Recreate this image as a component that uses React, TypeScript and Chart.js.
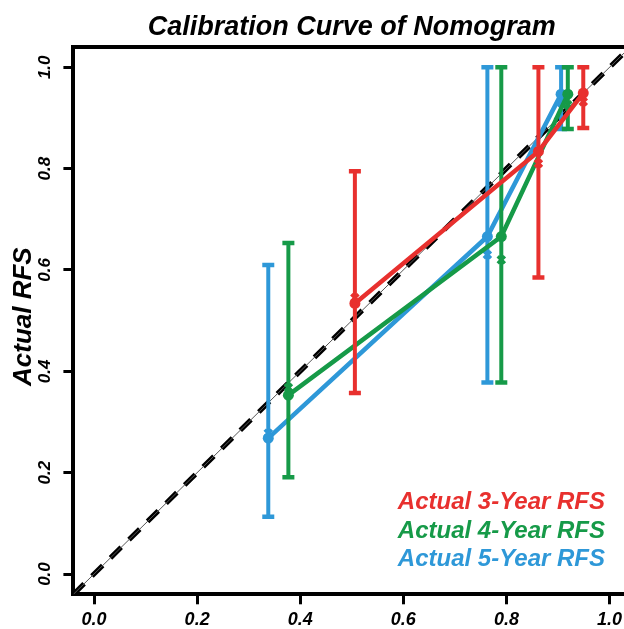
import React, { useEffect, useRef } from "react";
import { Chart, registerables } from "chart.js";

Chart.register(...registerables);

// ---- data ----
const xTicks = [0, 0.2, 0.4, 0.6, 0.8, 1.0];
const yTicks = [0, 0.2, 0.4, 0.6, 0.8, 1.0];
const diagonal = [-0.04, 1.04];

const seriesLabels = ["Actual 3-Year RFS", "Actual 4-Year RFS", "Actual 5-Year RFS"];
const seriesColors = ["#E8302E", "#169A48", "#2E98D8"];

const predicted3 = [0.506, 0.862, 0.949];
const observed3 = [0.534, 0.834, 0.949];
const corrected3 = [0.545, 0.81, 0.932];
const lower3 = [0.357, 0.585, 0.88];
const upper3 = [0.795, 1.0, 1.0];

const predicted4 = [0.377, 0.79, 0.919];
const observed4 = [0.353, 0.666, 0.947];
const corrected4 = [0.368, 0.62, 0.926];
const lower4 = [0.191, 0.378, 0.878];
const upper4 = [0.653, 1.0, 1.0];

const predicted5 = [0.338, 0.763, 0.906];
const observed5 = [0.268, 0.666, 0.947];
const corrected5 = [0.278, 0.63, 0.93];
const lower5 = [0.113, 0.378, 0.878];
const upper5 = [0.61, 1.0, 1.0];

const titleText = "Calibration Curve of Nomogram";
const yTitleText = "Actual RFS";

const FONT = '"Liberation Sans", Arial, Helvetica, sans-serif';

const series = [
  { pred: predicted3, obs: observed3, cor: corrected3, lo: lower3, hi: upper3 },
  { pred: predicted4, obs: observed4, cor: corrected4, lo: lower4, hi: upper4 },
  { pred: predicted5, obs: observed5, cor: corrected5, lo: lower5, hi: upper5 },
];

const textPlugin = {
  id: "customTexts",
  afterDraw(chart: any) {
    const { ctx, chartArea } = chart;
    const xs = chart.scales.x;
    const ys = chart.scales.y;
    ctx.save();
    // top frame line
    ctx.strokeStyle = "#000";
    ctx.lineWidth = 4;
    ctx.beginPath();
    ctx.moveTo(chartArea.left - 2, chartArea.top);
    ctx.lineTo(chartArea.right, chartArea.top);
    ctx.stroke();

    // title
    ctx.fillStyle = "#000";
    ctx.font = `italic bold 27px ${FONT}`;
    ctx.textAlign = "center";
    ctx.textBaseline = "alphabetic";
    ctx.fillText(titleText, xs.getPixelForValue(0.5), chartArea.top - 12);

    // y tick labels (rotated)
    ctx.font = `italic bold 17px ${FONT}`;
    yTicks.forEach((v) => {
      ctx.save();
      ctx.translate(chartArea.left - 28, ys.getPixelForValue(v));
      ctx.rotate(-Math.PI / 2);
      ctx.textAlign = "center";
      ctx.textBaseline = "middle";
      ctx.fillText(v.toFixed(1), 0, 0);
      ctx.restore();
    });

    // y title
    ctx.save();
    ctx.font = `italic bold 26px ${FONT}`;
    ctx.translate(chartArea.left - 50, ys.getPixelForValue(0.5) - 4);
    ctx.rotate(-Math.PI / 2);
    ctx.textAlign = "center";
    ctx.textBaseline = "middle";
    ctx.fillText(yTitleText, 0, 0);
    ctx.restore();

    // legend texts
    ctx.font = `italic bold 24px ${FONT}`;
    ctx.textAlign = "right";
    ctx.textBaseline = "alphabetic";
    seriesLabels.forEach((lab, i) => {
      ctx.fillStyle = seriesColors[i];
      ctx.fillText(lab, chartArea.right - 19, chartArea.bottom - 85 + i * 28.5);
    });
    ctx.restore();
  },
};

export default function App() {
  const canvasRef = useRef<HTMLCanvasElement | null>(null);

  useEffect(() => {
    if (!canvasRef.current) return;
    const datasets: any[] = [];

    // ideal diagonal (thick dashed + thin solid)
    datasets.push({
      data: diagonal.map((v) => ({ x: v, y: v })),
      showLine: true,
      borderColor: "#000",
      borderWidth: 5,
      borderDash: [15, 11],
      pointRadius: 0,
      order: 100,
    });
    datasets.push({
      data: diagonal.map((v) => ({ x: v, y: v })),
      showLine: true,
      borderColor: "#555",
      borderWidth: 1,
      pointRadius: 0,
      order: 99,
    });

    series.forEach((s, i) => {
      const color = seriesColors[i];
      const base = 10 + i * 10;
      // connecting line with dots
      datasets.push({
        data: s.pred.map((x, j) => ({ x, y: s.obs[j] })),
        showLine: true,
        borderColor: color,
        borderWidth: 4.5,
        pointRadius: 5.5,
        pointBackgroundColor: color,
        pointBorderColor: color,
        pointBorderWidth: 0,
        order: base + 2,
      });
      // error bars
      const eb: any[] = [];
      s.pred.forEach((x, j) => {
        eb.push({ x, y: s.lo[j] }, { x, y: s.hi[j] }, { x, y: null });
      });
      datasets.push({
        data: eb,
        showLine: true,
        spanGaps: false,
        borderColor: color,
        borderWidth: 4,
        pointStyle: "line",
        pointRadius: 6,
        pointBorderWidth: 4.5,
        pointBorderColor: color,
        pointBackgroundColor: color,
        order: base + 1,
      });
      // corrected markers
      datasets.push({
        data: s.pred.map((x, j) => ({ x, y: s.cor[j] })),
        showLine: false,
        pointStyle: "crossRot",
        pointRadius: 5,
        pointBorderWidth: 3.5,
        pointBorderColor: color,
        pointBackgroundColor: color,
        order: base,
      });
    });

    const chart = new Chart(canvasRef.current, {
      type: "scatter",
      data: { datasets },
      options: {
        animation: false,
        responsive: false,
        devicePixelRatio: 1,
        layout: { autoPadding: false, padding: { top: 47, left: 0, right: 0, bottom: 0 } },
        plugins: {
          legend: { display: false },
          tooltip: { enabled: false },
          title: { display: false },
        },
        scales: {
          x: {
            type: "linear",
            min: -0.04,
            max: 1.028,
            afterBuildTicks: (ax: any) => {
              ax.ticks = xTicks.map((v) => ({ value: v }));
            },
            afterFit: (s: any) => {
              s.height = 34.7;
              s.paddingLeft = 0;
              s.paddingRight = 0;
            },
            grid: {
              drawOnChartArea: false,
              drawTicks: true,
              tickLength: 10,
              tickWidth: 3,
              tickColor: "#000",
              color: "#000",
            },
            border: { display: true, color: "#000", width: 4 },
            ticks: {
              autoSkip: false,
              maxRotation: 0,
              padding: 5,
              color: "#000",
              font: { family: FONT, size: 18, weight: "bold", style: "italic" },
              callback: (v: any) => Number(v).toFixed(1),
            },
          },
          y: {
            type: "linear",
            min: -0.04,
            max: 1.04,
            afterBuildTicks: (ax: any) => {
              ax.ticks = yTicks.map((v) => ({ value: v }));
            },
            afterFit: (s: any) => {
              s.width = 73.4;
              s.paddingTop = 0;
              s.paddingBottom = 0;
            },
            grid: {
              drawOnChartArea: false,
              drawTicks: true,
              tickLength: 10,
              tickWidth: 3,
              tickColor: "#000",
              color: "#000",
            },
            border: { display: true, color: "#000", width: 4 },
            ticks: { display: false },
          },
        },
      } as any,
      plugins: [textPlugin],
    });
    return () => chart.destroy();
  }, []);

  return (
    <div style={{ position: "fixed", left: 0, top: 0, width: 624, height: 629, background: "#fff" }}>
      <canvas ref={canvasRef} width={624} height={629} style={{ display: "block" }} />
    </div>
  );
}
